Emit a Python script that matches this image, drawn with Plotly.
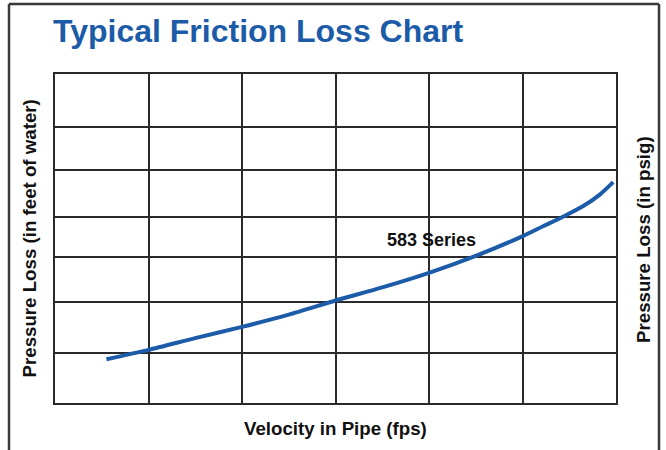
import plotly.graph_objects as go

# Data
velocity = [0.55, 1.0, 1.5, 2.0, 2.5, 3.0, 3.5, 4.0, 4.5, 4.98, 5.22, 5.45, 5.65, 5.83, 5.97]
pressure_loss = [0.93, 1.13, 1.38, 1.62, 1.88, 2.18, 2.46, 2.77, 3.13, 3.53, 3.76, 3.98, 4.19, 4.44, 4.70]
x_grid = [0, 1, 2, 3, 4, 5, 6]
y_grid = [0, 1.064, 2.149, 3.106, 3.957, 4.957, 5.883, 7]
series_name = "583 Series"
label_pos = (4.03, 3.47)

BLUE = "#1c5ba8"
GRID = "#2a2a2a"
FONT = "Liberation Sans, Arial, Helvetica, sans-serif"

fig = go.Figure()
fig.add_trace(go.Scatter(
    x=velocity, y=pressure_loss, mode="lines",
    line=dict(color=BLUE, width=4, shape="spline", smoothing=0.7),
    hoverinfo="skip", showlegend=False,
))

fig.add_annotation(x=label_pos[0], y=label_pos[1], xref="x", yref="y",
                   text=series_name, showarrow=False,
                   font=dict(family=FONT, size=18, color="#111", weight="bold"))

W, H = 666, 450
ml, mr, mt, mb = 55, 50, 74, 47
pw, ph = W - ml - mr, H - mt - mb

def px_x(p):
    return (p - ml) / pw

def px_y(p):
    return (H - mb - p) / ph

LABEL = 18.7
# title
fig.add_annotation(x=px_x(51), y=px_y(31), xref="paper", yref="paper",
                   xanchor="left", yanchor="middle", showarrow=False,
                   text="Typical Friction Loss Chart",
                   font=dict(family=FONT, size=32, color=BLUE, weight="bold"))
# axis titles
fig.add_annotation(x=0.5, y=px_y(428), xref="paper", yref="paper",
                   xanchor="center", yanchor="middle", showarrow=False,
                   text="Velocity in Pipe (fps)",
                   font=dict(family=FONT, size=LABEL, color="#111", weight="bold"))
fig.add_annotation(x=px_x(29), y=0.5, xref="paper", yref="paper",
                   xanchor="center", yanchor="middle", showarrow=False, textangle=-90,
                   text="Pressure Loss (in feet of water)",
                   font=dict(family=FONT, size=LABEL, color="#111", weight="bold"))
fig.add_annotation(x=px_x(643), y=px_y(240), xref="paper", yref="paper",
                   xanchor="center", yanchor="middle", showarrow=False, textangle=-90,
                   text="Pressure Loss (in psig)",
                   font=dict(family=FONT, size=LABEL, color="#111", weight="bold"))

# outer frame (left, top, right edges)
frame = dict(color="#3a3a3a", width=2.5)
fig.add_shape(type="line", xref="paper", yref="paper",
              x0=px_x(9), x1=px_x(9), y0=px_y(4), y1=px_y(470), line=frame)
fig.add_shape(type="line", xref="paper", yref="paper",
              x0=px_x(9), x1=px_x(659), y0=px_y(4), y1=px_y(4), line=frame)
fig.add_shape(type="line", xref="paper", yref="paper",
              x0=px_x(659), x1=px_x(659), y0=px_y(4), y1=px_y(470), line=frame)

fig.update_xaxes(range=[0, 6], tickvals=x_grid, showticklabels=False, ticks="",
                 showgrid=True, gridcolor=GRID, gridwidth=1.5, zeroline=False,
                 showline=True, linecolor=GRID, linewidth=1.5, mirror=True, fixedrange=True)
fig.update_yaxes(range=[0, 7], tickvals=y_grid, showticklabels=False, ticks="",
                 showgrid=True, gridcolor=GRID, gridwidth=1.5, zeroline=False,
                 showline=True, linecolor=GRID, linewidth=1.5, mirror=True, fixedrange=True)

fig.update_layout(width=W, height=H, margin=dict(l=ml, r=mr, t=mt, b=mb),
                  paper_bgcolor="white", plot_bgcolor="white", showlegend=False)

fig.write_html("out.html", config={"displayModeBar": False},
               post_script="document.body.style.margin='0';document.body.style.overflow='hidden';")
